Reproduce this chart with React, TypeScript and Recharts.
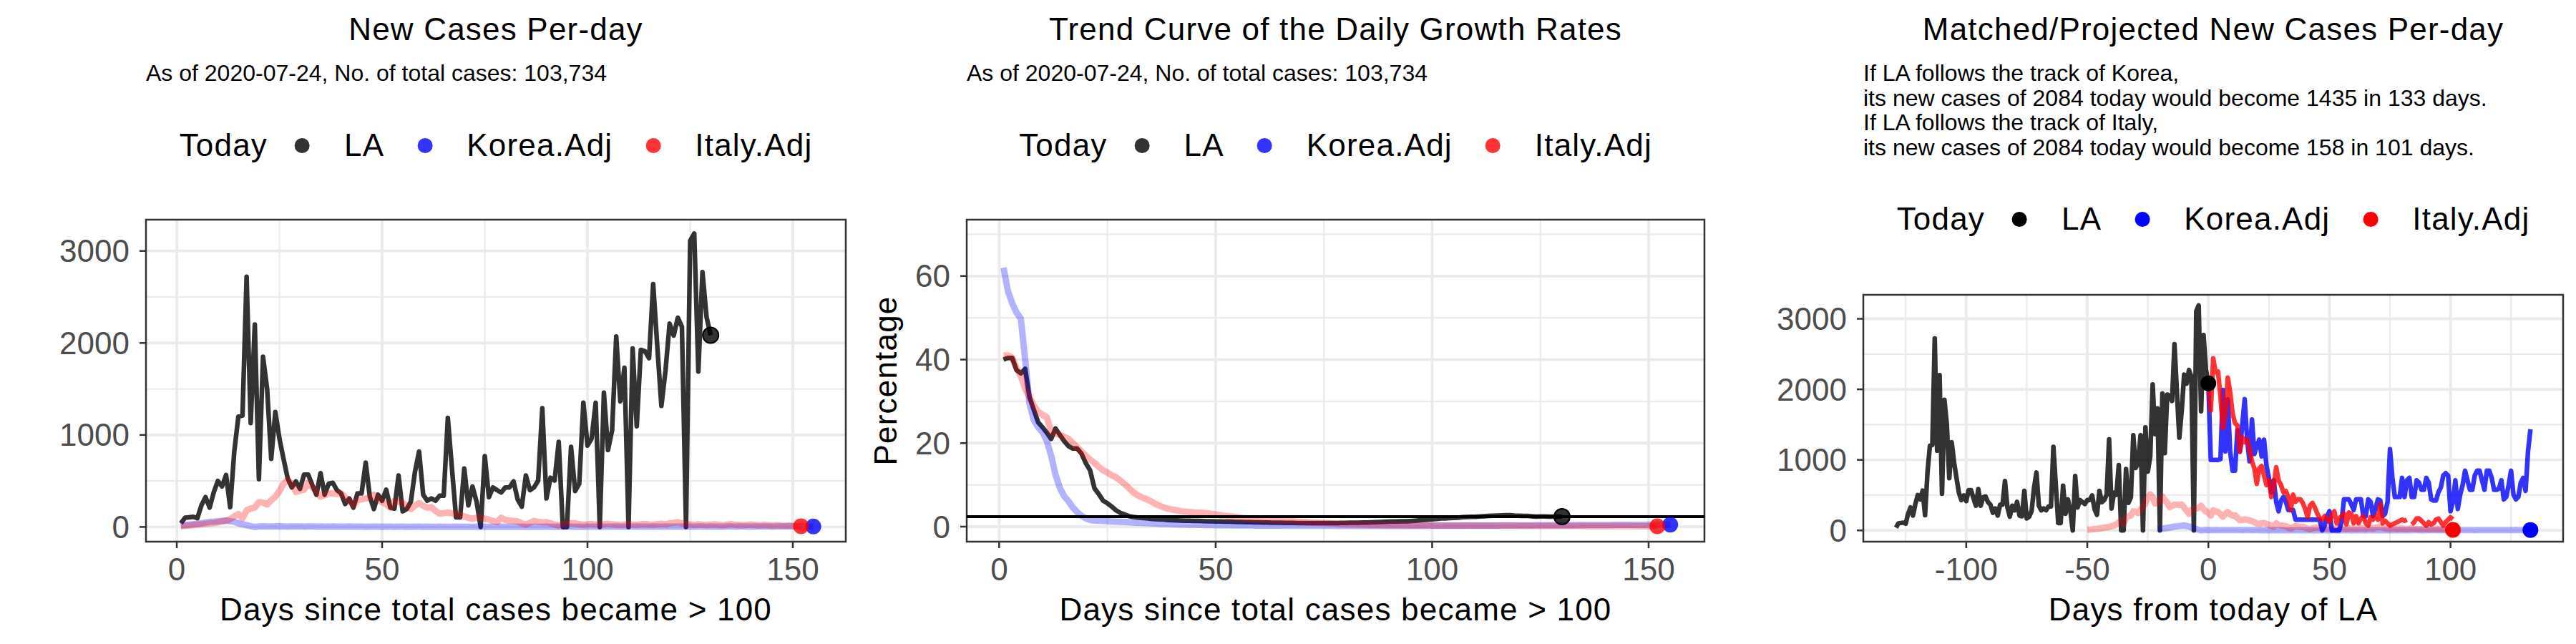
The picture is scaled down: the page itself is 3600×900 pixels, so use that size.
import React from "react";
import {
  CartesianGrid, ComposedChart, Label, Line, ReferenceArea, ReferenceLine, Scatter, XAxis, YAxis
} from "recharts";

const FONT = "'Liberation Sans', Arial, sans-serif";

// LA new cases per day, day 1 = first day with > 100 total cases
const laNewCases = [
  40, 100, 105, 110, 95, 235, 325, 210, 375, 500,
  440, 565, 215, 820, 1200, 1210, 2720, 1130, 2200, 520,
  1850, 1500, 740, 1250, 960, 740, 530, 430, 495, 415,
  570, 570, 455, 350, 585, 350, 470, 480, 400, 365,
  250, 310, 210, 365, 365, 700, 330, 195, 350, 285,
  405, 210, 200, 560, 170, 195, 275, 600, 820, 350,
  285, 310, 285, 340, 340, 1185, 640, 105, 105, 635,
  235, 440, 275, 0, 770, 325, 430, 400, 375, 430,
  430, 495, 300, 220, 560, 400, 430, 505, 1290, 310,
  535, 505, 925, 0, 0, 870, 390, 470, 1350, 885,
  960, 1350, 0, 1460, 835, 1050, 2070, 1365, 1730, 0,
  1940, 1095, 1925, 1910, 1835, 2640, 1965, 1315, 1700, 2210,
  2080, 2275, 2175, 0, 3110, 3190, 1690, 2770, 2280, 2084,
];

// Korea, population adjusted, day 1..155
const koreaAdjNewCases = [
  15, 20, 25, 30, 35, 40, 48, 55, 58, 62,
  66, 70, 62, 57, 40, 30, 20, 8, 0, 5,
  8, 6,
  6, 5, 7, 6, 4, 5, 6, 5, 4, 5,
  6, 4, 5, 3, 4, 5, 4, 3, 4, 5,
  3, 4, 3, 2, 4, 3, 3, 2, 3, 4,
  2, 3, 3, 2, 2, 3, 4, 2, 3, 2,
  2, 3, 2, 1, 2, 3, 2, 2, 1, 2,
  3, 2, 2, 1, 2, 2, 3, 2, 1, 2,
  2, 3, 2, 2, 1, 2, 2, 3, 2, 2,
  3, 2, 4, 3, 2, 3, 2, 3, 4, 3,
  2, 3, 4, 3, 5, 4, 3, 4, 3, 5,
  4, 3, 4, 5, 3, 4, 5, 4, 3, 4,
  5, 4, 3, 4, 5, 6, 4, 5, 4, 3,
  4, 5, 6, 4, 5, 6, 5, 4, 5, 6,
  5, 6, 4, 5, 6, 5, 7, 6, 5, 6,
  7, 5, 6,
];

// Italy, population adjusted, day 1..152
const italyAdjNewCases = [
  10, 12, 15, 20, 24, 28, 33, 38, 42, 50,
  60, 68, 85, 115, 140, 95, 180, 200, 210, 270,
  265, 245, 290, 330, 390, 470, 510, 470, 380, 395,
  405, 480, 430, 390, 330, 345, 365, 365, 360, 365,
  325, 280, 235, 290, 300, 310, 320, 350, 300, 270,
  250, 210, 285, 270, 260, 230, 195, 230, 260, 230,
  210, 215, 175, 145, 150, 155, 150, 140, 130, 115,
  100, 90, 100, 105, 90, 80, 65, 52, 100, 75,
  70, 65, 60, 40, 26, 45, 65, 55, 50, 52,
  40, 25, 15, 30, 35, 40, 38, 30, 25, 28,
  32, 26, 22, 30, 35, 28, 24, 20, 26, 30,
  25, 22, 28, 32, 27, 24, 30, 35, 28, 40,
  45, 52, 38, 30, 26, 22, 28, 25, 20, 24,
  28, 22, 18, 25, 30, 24, 20, 18, 22, 26,
  20, 16, 22, 18, 15, 20, 16, 14, 18, 12,
  10, 8,
];

// trend curve of daily growth rate (%)
const laGrowthRate = [
  40, 40.4, 40.4, 37.5, 36.7, 37.8, 31, 28, 25, 23.8,
  22.5, 21, 23.5, 22, 20.5, 19.3, 18.7, 18.7, 17.5, 15.2,
  13.5, 9.2, 7.8, 6.2, 5.6, 4.8, 3.9, 3.3, 2.9, 2.5,
  2.3, 2.2, 2.1, 2, 1.9, 1.8, 1.75, 1.7, 1.6, 1.55,
  1.5, 1.45, 1.42, 1.4, 1.38, 1.35, 1.33, 1.3, 1.28, 1.25,
  1.22, 1.2, 1.18, 1.15, 1.12, 1.1, 1.08, 1.06, 1.04, 1.02,
  1, 0.98, 0.96, 0.94, 0.92, 0.9, 0.89, 0.88, 0.87, 0.86,
  0.85, 0.85, 0.84, 0.84, 0.85, 0.85, 0.86, 0.87, 0.88, 0.9,
  0.92, 0.94, 0.96, 0.98, 1, 1.03, 1.06, 1.1, 1.14, 1.18,
  1.22, 1.26, 1.3, 1.3, 1.34, 1.4, 1.48, 1.56, 1.65, 1.75,
  1.85, 1.95, 1.95, 2.05, 2.1, 2.15, 2.25, 2.3, 2.35, 2.35,
  2.45, 2.5, 2.55, 2.6, 2.65, 2.7, 2.75, 2.75, 2.65, 2.6,
  2.55, 2.55, 2.5, 2.4, 2.45, 2.45, 2.4, 2.4, 2.4, 2.4,
];

const koreaGrowthRate = [
  62, 56.5, 53.5, 51.3, 49.8, 40, 29.5, 25.5, 23.8, 22.6,
  20.5, 17, 12.5, 9.3, 7.3, 6.1, 4.6, 3.5, 2.6, 2,
  1.6, 1.45, 1.4, 1.35, 1.3, 1.25, 1.2, 1.15, 1.1, 1.05,
  1, 0.95, 0.9, 0.85, 0.8, 0.75, 0.7, 0.66, 0.62, 0.6,
  0.56, 0.53, 0.5, 0.47, 0.45, 0.43, 0.41, 0.39, 0.37, 0.35,
  0.34, 0.33, 0.32, 0.31, 0.3, 0.29, 0.28, 0.28, 0.27, 0.26,
  0.26, 0.25, 0.25, 0.24, 0.24, 0.23, 0.23, 0.22, 0.22, 0.22,
  0.21, 0.21, 0.21, 0.2, 0.2, 0.2, 0.2, 0.19, 0.19, 0.19,
  0.19, 0.19, 0.18, 0.18, 0.18, 0.18, 0.18, 0.18, 0.18, 0.18,
  0.18, 0.18, 0.18, 0.18, 0.19, 0.19, 0.19, 0.19, 0.2, 0.2,
  0.2, 0.21, 0.21, 0.22, 0.22, 0.23, 0.23, 0.24, 0.24, 0.25,
  0.25, 0.26, 0.26, 0.27, 0.27, 0.28, 0.28, 0.29, 0.29, 0.3,
  0.3, 0.31, 0.31, 0.32, 0.32, 0.33, 0.33, 0.34, 0.34, 0.35,
  0.35, 0.36, 0.36, 0.37, 0.37, 0.38, 0.38, 0.39, 0.39, 0.4,
  0.4, 0.41, 0.41, 0.42, 0.42, 0.43, 0.43, 0.44, 0.44, 0.45,
  0.45, 0.46, 0.46, 0.47, 0.47,
];

const italyGrowthRate = [
  41, 41, 40.5, 38, 36, 33, 31, 29, 27.5, 26.8,
  26.2, 22.7, 22.3, 22, 21.5, 21, 20, 19, 18, 17,
  16, 15.3, 14.3, 13.5, 13, 12.3, 11.8, 11, 10.2, 9.2,
  8.2, 7.5, 7, 6.6, 6.1, 5.5, 5, 4.6, 4.3, 4.1,
  3.9, 3.7, 3.6, 3.5, 3.4, 3.35, 3.3, 3.2, 3.05, 2.9,
  2.75, 2.6, 2.5, 2.4, 2.25, 2.1, 2, 1.9, 1.82, 1.75,
  1.68, 1.6, 1.55, 1.5, 1.43, 1.37, 1.3, 1.23, 1.16, 1.1,
  1.05, 1, 0.95, 0.9, 0.85, 0.8, 0.75, 0.7, 0.65, 0.6,
  0.57, 0.54, 0.51, 0.48, 0.45, 0.43, 0.41, 0.39, 0.37, 0.35,
  0.34, 0.33, 0.32, 0.31, 0.3, 0.3, 0.29, 0.29, 0.28, 0.28,
  0.27, 0.27, 0.26, 0.26, 0.25, 0.25, 0.24, 0.24, 0.23, 0.23,
  0.22, 0.22, 0.22, 0.21, 0.21, 0.21, 0.2, 0.2, 0.2, 0.19,
  0.19, 0.19, 0.18, 0.18, 0.18, 0.17, 0.17, 0.17, 0.16, 0.16,
  0.16, 0.15, 0.15, 0.15, 0.14, 0.14, 0.14, 0.13, 0.13, 0.13,
  0.12, 0.12, 0.12, 0.11, 0.11, 0.11, 0.1, 0.1, 0.1, 0.1,
  0.1, 0.1,
];

// projected LA new cases, day 0 = today of LA
const koreaProjected = [
  2084,
  1000, 1000, 1000, 1000, 1010, 1990, 1120, 1860, 1116, 846,
  846, 1420, 1116, 1500, 1860, 1286, 981, 1573, 1083, 1200,
  1286, 1049, 1286, 913, 744, 541, 710, 406, 271, 423,
  474, 406, 288, 288, 288, 152, 152, 152, 152, 152,
  152, 152, 152, 152, 152, 152, 0, 68, 203, 271,
  0, 0, 0, 0, 118, 440, 440, 440, 372, 288,
  440, 440, 440, 203, 203, 440, 406, 203, 304, 440,
  423, 203, 237, 406, 1150, 744, 474, 474, 474, 744,
  474, 710, 744, 474, 474, 710, 677, 575, 575, 744,
  677, 440, 423, 423, 541, 609, 778, 812, 778, 271,
  406, 710, 304, 507, 643, 846, 710, 575, 575, 778,
  846, 846, 710, 575, 846, 846, 744, 575, 575, 592,
  710, 440, 474, 643, 846, 507, 440, 474, 677, 744,
  560, 1116, 1435,
];

const italyProjected = [
  2084,
  1700, 2440, 2240, 2250, 1900, 1450, 1650, 2165, 1960, 1660,
  1520, 1490, 1116, 1320, 1250, 1290, 1150, 980, 880, 660,
  880, 913, 778, 643, 710, 474, 609, 896, 710, 643,
  541, 558, 474, 288, 507, 406, 440, 440, 389, 304,
  186, 355, 389, 321, 237, 169, 152, 203, 169, 118,
  220, 271, 101, 169, 203, 237, 85, 254, 237, 101,
  203, 101, 169, 203, 101, 68, 186, 152, 203, 152,
  372, 101, 135, 101, 68, 85, 101, 118, 135, 152,
  135, 152, null, 85, 118, 169, 169, 135, 101, 68,
  118, 85, 101, 152, 169, 118, 68, 118, 152, 186,
  158,
];

// matched lags (days) of Korea / Italy relative to LA
const koreaLag = 22;
const italyLag = 51;

const asOfDate = "2020-07-24";
const totalCases = 103734;

const countTicks = [0, 1000, 2000, 3000];
const countMinor = [500, 1500, 2500];
const dayTicks = [0, 50, 100, 150];
const dayMinor = [25, 75, 125];
const rateTicks = [0, 20, 40, 60];
const rateMinor = [10, 30, 50, 70];
const shiftTicks = [-100, -50, 0, 50, 100];
const shiftMinor = [-125, -75, -25, 25, 75, 125];

type Pt = { day: number; value: number | null };

const toPoints = (values: (number | null)[], firstDay: number): Pt[] =>
  values.map((value, i) => ({ day: firstDay + i, value }));

const lastOf = (pts: Pt[]) => pts[pts.length - 1];

type Series = { name: string; points: Pt[]; color: string; opacity: number; width: number };
type Marker = { name: string; point: Pt; fill: string; opacity: number; ring?: boolean };

const CHART_TOP = 280;
const CHART_H = 620;
const PLOT_BOTTOM = 757;

const tickStyle = { fontSize: 44, fill: "#4d4d4d", fontFamily: FONT };
const tickLine = { stroke: "#333333", strokeWidth: 2.5 };

function Panel(props: {
  left: number; plotTop: number; yAxisWidth: number;
  xDomain: [number, number]; xTicks: number[]; xMinor: number[];
  yDomain: [number, number]; yTicks: number[]; yMinor: number[];
  xLabel: string; yLabel?: string; series: Series[]; markers: Marker[]; hline?: number;
})
{
  const { left, plotTop, yAxisWidth, xDomain, xTicks, xMinor, yDomain, yTicks, yMinor } = props;
  return (
    <div style={{ position: "absolute", left, top: CHART_TOP }}>
      <ComposedChart
        width={1200}
        height={CHART_H}
        margin={{ top: plotTop - CHART_TOP, right: 18, bottom: 0, left: 0 }}
      >
        <CartesianGrid stroke="#ebebeb" strokeWidth={2.2} horizontalValues={yMinor} verticalValues={xMinor}/>
        <CartesianGrid stroke="#ebebeb" strokeWidth={3.8} horizontalValues={yTicks} verticalValues={xTicks}/>
        <XAxis
          type="number" dataKey="day" domain={xDomain} ticks={xTicks} allowDataOverflow interval={0}
          height={900 - PLOT_BOTTOM} axisLine={false} tickSize={9} tickMargin={14}
          tickLine={tickLine} tick={tickStyle}
        >
          <Label
            value={props.xLabel} position="insideBottom" offset={33}
            fontSize={44} fill="#000000" style={{ letterSpacing: "1.2px", fontFamily: FONT }}
          />
        </XAxis>
        <YAxis
          type="number" dataKey="value" domain={yDomain} ticks={yTicks} allowDataOverflow interval={0}
          width={yAxisWidth} axisLine={false} tickSize={9} tickMargin={14}
          tickLine={tickLine} tick={tickStyle}
        >
          {props.yLabel && (
            <Label
              value={props.yLabel} position="insideLeft" offset={37} angle={-90}
              fontSize={44} fill="#000000"
              style={{ letterSpacing: "1.2px", textAnchor: "middle", fontFamily: FONT }}
            />
          )}
        </YAxis>
        {props.series.map(s => (
          <Line
            key={s.name} name={s.name} data={s.points} dataKey="value" type="linear"
            stroke={s.color} strokeOpacity={s.opacity} strokeWidth={s.width} strokeLinejoin="round"
            dot={false} activeDot={false} connectNulls={false} isAnimationActive={false}
          />
        ))}
        {props.hline !== undefined && (
          <ReferenceLine y={props.hline} stroke="#000000" strokeWidth={4}/>
        )}
        {props.markers.map(m => (
          <Scatter
            key={m.name} name={m.name} data={[m.point]} dataKey="value" isAnimationActive={false}
            shape={(p: any) => (
              <circle
                cx={p.cx} cy={p.cy} r={11} fill={m.fill} fillOpacity={m.opacity}
                stroke={m.ring ? "#000000" : "none"} strokeWidth={2}
              />
            )}
          />
        ))}
        <ReferenceArea
          x1={xDomain[0]} x2={xDomain[1]} y1={yDomain[0]} y2={yDomain[1]}
          fill="none" fillOpacity={0} stroke="#333333" strokeWidth={2.5} ifOverflow="visible"
        />
      </ComposedChart>
    </div>
  );
}

function Legend({ center, top, colors }: { center: number; top: number; colors: string[] })
{
  const names = ["LA", "Korea.Adj", "Italy.Adj"];
  return (
    <div
      style={{
        position: "absolute", left: center, top, transform: "translateX(-50%)",
        display: "flex", alignItems: "center", whiteSpace: "nowrap",
        fontSize: 44, lineHeight: 1, letterSpacing: "1.2px", color: "#000"
      }}
    >
      <span style={{ marginRight: 38 }}>Today</span>
      {names.map((n, i) => (
        <React.Fragment key={n}>
          <span
            style={{
              width: 21, height: 21, borderRadius: "50%", background: colors[i],
              marginRight: 48, flex: "0 0 auto"
            }}
          />
          <span style={{ marginRight: i < names.length - 1 ? 46 : 0 }}>{n}</span>
        </React.Fragment>
      ))}
    </div>
  );
}

const titleStyle = (center: number): React.CSSProperties => ({
  position: "absolute", left: center, top: 19.4, transform: "translateX(-50%)",
  fontSize: 44, lineHeight: 1, letterSpacing: "1.2px", whiteSpace: "nowrap"
});

const subStyle = (left: number): React.CSSProperties => ({
  position: "absolute", left, top: 86, fontSize: 32, lineHeight: 1, whiteSpace: "nowrap"
});

export default function App()
{
  const laToday = laNewCases.length;
  const laTodayCases = laNewCases[laToday - 1];

  const laPts = toPoints(laNewCases, 1);
  const koreaPts = toPoints(koreaAdjNewCases, 1);
  const italyPts = toPoints(italyAdjNewCases, 1);

  const laRatePts = toPoints(laGrowthRate, 1);
  const koreaRatePts = toPoints(koreaGrowthRate, 1);
  const italyRatePts = toPoints(italyGrowthRate, 1);

  const laShift = toPoints(laNewCases, 1 - laToday);
  const koreaShift = toPoints(koreaAdjNewCases, 1 - koreaLag);
  const italyShift = toPoints(italyAdjNewCases, 1 - italyLag);
  const koreaProjPts = toPoints(koreaProjected, 0);
  const italyProjPts = toPoints(italyProjected, 0);

  const koreaEnd = koreaProjected[koreaProjected.length - 1];
  const italyEnd = italyProjected[italyProjected.length - 1];
  const subtitle = `As of ${asOfDate}, No. of total cases: ${totalCases.toLocaleString("en-US")}`;

  const faded = (name: string, points: Pt[], color: string): Series =>
    ({ name, points, color, opacity: 0.3, width: 9 });
  const solid = (name: string, points: Pt[], color: string): Series =>
    ({ name, points, color, opacity: 0.8, width: 6.5 });

  const c1 = (204 + 1182) / 2;
  const c2 = (1351 + 2382) / 2;
  const c3 = (2604 + 3582) / 2;

  return (
    <div
      style={{
        position: "absolute", left: 0, top: 0, width: 3600, height: 900,
        background: "#ffffff", fontFamily: FONT, color: "#000", overflow: "hidden"
      }}
    >
      <div style={titleStyle(c1)}>New Cases Per-day</div>
      <div style={subStyle(204)}>{subtitle}</div>
      <Legend center={c1} top={181} colors={["#333333", "#3333ff", "#ff3333"]}/>

      <div style={titleStyle(c2)}>Trend Curve of the Daily Growth Rates</div>
      <div style={subStyle(1351)}>{subtitle}</div>
      <Legend center={c2} top={181} colors={["#333333", "#3333ff", "#ff3333"]}/>

      <div style={titleStyle(c3)}>Matched/Projected New Cases Per-day</div>
      <div style={{ ...subStyle(2604), top: 85, lineHeight: "34.7px" }}>
        <div>If LA follows the track of Korea,</div>
        <div>{`its new cases of ${laTodayCases} today would become ${koreaEnd} in ${koreaProjected.length - 1} days.`}</div>
        <div>If LA follows the track of Italy,</div>
        <div>{`its new cases of ${laTodayCases} today would become ${italyEnd} in ${italyProjected.length - 1} days.`}</div>
      </div>
      <Legend center={c3} top={284} colors={["#000000", "#0000ff", "#ff0000"]}/>

      <Panel
        left={0} plotTop={307} yAxisWidth={204}
        xDomain={[-7.5, 162.9]} xTicks={dayTicks} xMinor={dayMinor}
        yDomain={[-160, 3340]} yTicks={countTicks} yMinor={countMinor}
        xLabel="Days since total cases became > 100"
        series={[
          solid("LA", laPts, "#000000"),
          faded("Korea.Adj", koreaPts, "#0000ff"),
          faded("Italy.Adj", italyPts, "#ff0000"),
        ]}
        markers={[
          { name: "LA today", point: lastOf(laPts), fill: "#000000", opacity: 0.8, ring: true },
          { name: "Korea end", point: lastOf(koreaPts), fill: "#0000ff", opacity: 0.8 },
          { name: "Italy end", point: lastOf(italyPts), fill: "#ff0000", opacity: 0.8 },
        ]}
      />

      <Panel
        left={1200} plotTop={307} yAxisWidth={151}
        xDomain={[-7.5, 162.9]} xTicks={dayTicks} xMinor={dayMinor}
        yDomain={[-3.6, 73.5]} yTicks={rateTicks} yMinor={rateMinor}
        xLabel="Days since total cases became > 100" yLabel="Percentage"
        hline={laGrowthRate[laGrowthRate.length - 1]}
        series={[
          solid("LA", laRatePts, "#000000"),
          faded("Korea.Adj", koreaRatePts, "#0000ff"),
          faded("Italy.Adj", italyRatePts, "#ff0000"),
        ]}
        markers={[
          { name: "LA today", point: lastOf(laRatePts), fill: "#000000", opacity: 0.8, ring: true },
          { name: "Korea end", point: lastOf(koreaRatePts), fill: "#0000ff", opacity: 0.8 },
          { name: "Italy end", point: lastOf(italyRatePts), fill: "#ff0000", opacity: 0.8 },
        ]}
      />

      <Panel
        left={2400} plotTop={412} yAxisWidth={204}
        xDomain={[-142.5, 146.5]} xTicks={shiftTicks} xMinor={shiftMinor}
        yDomain={[-160, 3340]} yTicks={countTicks} yMinor={countMinor}
        xLabel="Days from today of LA"
        series={[
          solid("LA", laShift, "#000000"),
          faded("Korea.Adj", koreaShift, "#0000ff"),
          faded("Italy.Adj", italyShift, "#ff0000"),
          solid("Korea projected", koreaProjPts, "#0000ff"),
          solid("Italy projected", italyProjPts, "#ff0000"),
        ]}
        markers={[
          { name: "LA today", point: lastOf(laShift), fill: "#000000", opacity: 1 },
          { name: "Italy end", point: lastOf(italyShift), fill: "#ff0000", opacity: 1 },
          { name: "Korea end", point: lastOf(koreaShift), fill: "#0000ff", opacity: 1 },
        ]}
      />
    </div>
  );
}
